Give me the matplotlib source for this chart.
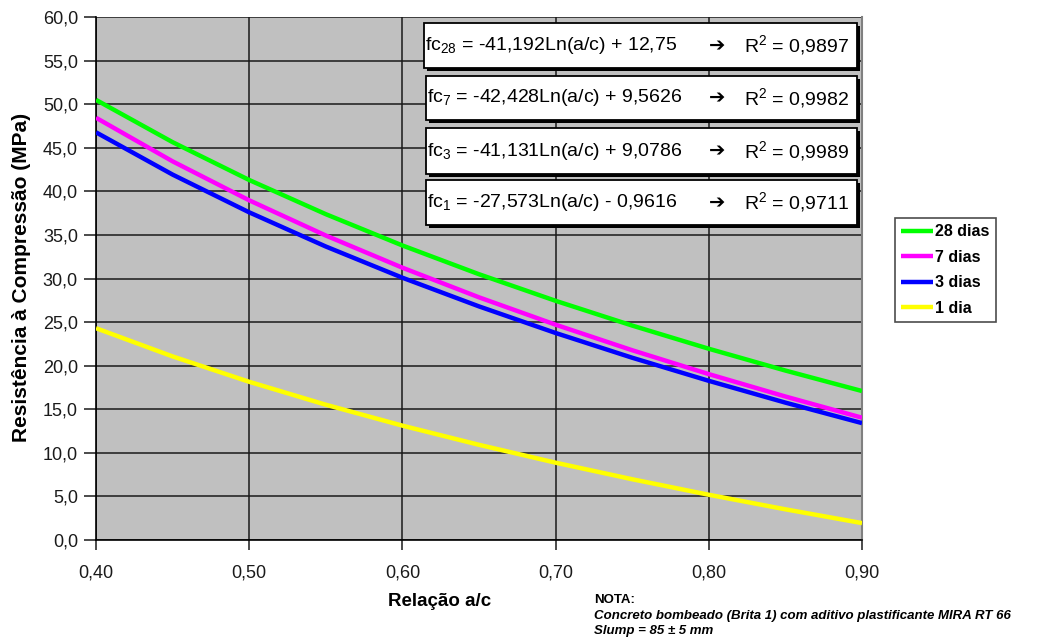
import matplotlib
matplotlib.use("Agg")
import matplotlib.pyplot as plt
from matplotlib.patches import Rectangle
from matplotlib.ticker import FuncFormatter

plt.rcParams['font.family'] = ['Liberation Sans', 'DejaVu Sans']
plt.rcParams['mathtext.fontset'] = 'custom'
plt.rcParams['mathtext.rm'] = 'Liberation Sans'
plt.rcParams['mathtext.it'] = 'Liberation Sans:italic'
plt.rcParams['mathtext.bf'] = 'Liberation Sans:bold'

# relação a/c e resistências (MPa) das curvas de ajuste
ac = [0.40, 0.45, 0.50, 0.55, 0.60, 0.65, 0.70, 0.75, 0.80, 0.85, 0.90]
fc28 = [50.49, 45.64, 41.30, 37.38, 33.79, 30.49, 27.44, 24.60, 21.94, 19.44, 17.09]
fc7 = [48.44, 43.44, 38.97, 34.93, 31.24, 27.84, 24.70, 21.77, 19.03, 16.46, 14.03]
fc3 = [46.77, 41.92, 37.59, 33.67, 30.09, 26.80, 23.75, 20.91, 18.26, 15.76, 13.41]
fc1 = [24.30, 21.06, 18.15, 15.52, 13.12, 10.92, 8.87, 6.97, 5.19, 3.52, 1.94]

labels = ['28 dias', '7 dias', '3 dias', '1 dia']
colors = ['#00FF00', '#FF00FF', '#0000FF', '#FFFF00']

equations = [
    (r'fc$_{\mathregular{28}}$ = -41,192Ln(a/c) + 12,75', '0,9897'),
    (r'fc$_{\mathregular{7}}$ = -42,428Ln(a/c) + 9,5626', '0,9982'),
    (r'fc$_{\mathregular{3}}$ = -41,131Ln(a/c) + 9,0786', '0,9989'),
    (r'fc$_{\mathregular{1}}$ = -27,573Ln(a/c) - 0,9616', '0,9711'),
]

W, H = 1041, 639
fig = plt.figure(figsize=(W / 100, H / 100), dpi=100)
ax = fig.add_axes([96 / W, 1 - 540 / H, (862 - 96) / W, (540 - 17) / H])
ax.set_facecolor('#C0C0C0')

for y, lab, c in zip([fc28, fc7, fc3, fc1], labels, colors):
    ax.plot(ac, y, color=c, lw=3.2, label=lab, solid_capstyle='butt', zorder=3)

ax.set_xlim(0.40, 0.90)
ax.set_ylim(0, 60)
ax.set_xticks([0.40, 0.50, 0.60, 0.70, 0.80, 0.90])
ax.set_yticks(range(0, 61, 5))
ax.xaxis.set_major_formatter(FuncFormatter(lambda v, p: f'{v:.2f}'.replace('.', ',')))
ax.yaxis.set_major_formatter(FuncFormatter(lambda v, p: f'{v:.1f}'.replace('.', ',')))
ax.grid(True, color='#1a1a1a', lw=1.1, zorder=1)
ax.set_axisbelow(True)
ax.tick_params(axis='both', labelsize=13, colors='#1a1a1a', width=1.1)
ax.tick_params(axis='y', length=9, pad=4)
ax.tick_params(axis='x', length=7, pad=11)

ax.spines['top'].set_visible(False)
ax.spines['right'].set_color('#808080')
ax.spines['right'].set_linewidth(1.5)
ax.spines['left'].set_linewidth(1.2)
ax.spines['bottom'].set_linewidth(1.2)

fig.text(22 / W, 1 - 277 / H, 'Resistência à Compressão (MPa)', fontsize=15, fontweight='bold',
         rotation=90, ha='center', va='center')
fig.text(440 / W, 1 - 602 / H, 'Relação a/c', fontsize=13.5, fontweight='bold',
         ha='center', va='center')

# caixas com as equações (sombra preta deslocada + caixa branca)
boxes = [(424, 23, 68), (426, 76, 120), (426, 128, 174), (426, 180, 225)]
for (x0, top, bot), (eq, r2) in zip(boxes, equations):
    x1 = 857
    fig.patches.append(Rectangle(((x0 + 3) / W, 1 - (bot + 3) / H), (x1 - x0) / W, (bot - top) / H,
                                 transform=fig.transFigure, facecolor='black', edgecolor='none', zorder=5))
    fig.patches.append(Rectangle((x0 / W, 1 - bot / H), (x1 - x0) / W, (bot - top) / H,
                                 transform=fig.transFigure, facecolor='white', edgecolor='black',
                                 lw=1.3, zorder=6))
    yc = 1 - (top + bot) / 2 / H
    fig.text((x0 + 1) / W, yc, eq, fontsize=14, ha='left', va='center', zorder=7)
    fig.text(717 / W, yc, '➔', fontsize=14, family='DejaVu Sans', fontweight='bold',
             ha='center', va='center', zorder=7)
    fig.text(744 / W, yc, r'R$^{\mathregular{2}}$ = ' + r2, fontsize=14, ha='left', va='center', zorder=7)

leg = fig.legend(loc='upper left', bbox_to_anchor=(895 / W, 1 - 218 / H), frameon=True,
                 fancybox=False, edgecolor='#202020', prop={'weight': 'bold', 'size': 11.5},
                 handlelength=2.0, handletextpad=0.1, labelspacing=0.65, borderpad=0.4,
                 borderaxespad=0)
leg.get_frame().set_linewidth(1.2)

fig.text(594 / W, 1 - 600 / H, 'NOTA:', fontsize=9.5, fontweight='bold', ha='left', va='center')
fig.text(594 / W, 1 - 616 / H, 'Concreto bombeado (Brita 1) com aditivo plastificante MIRA RT 66',
         fontsize=9.5, fontweight='bold', style='italic', ha='left', va='center')
fig.text(594 / W, 1 - 631 / H, 'Slump = 85 ± 5 mm', fontsize=9.5, fontweight='bold',
         style='italic', ha='left', va='center')

fig.savefig('out.png', dpi=100)
